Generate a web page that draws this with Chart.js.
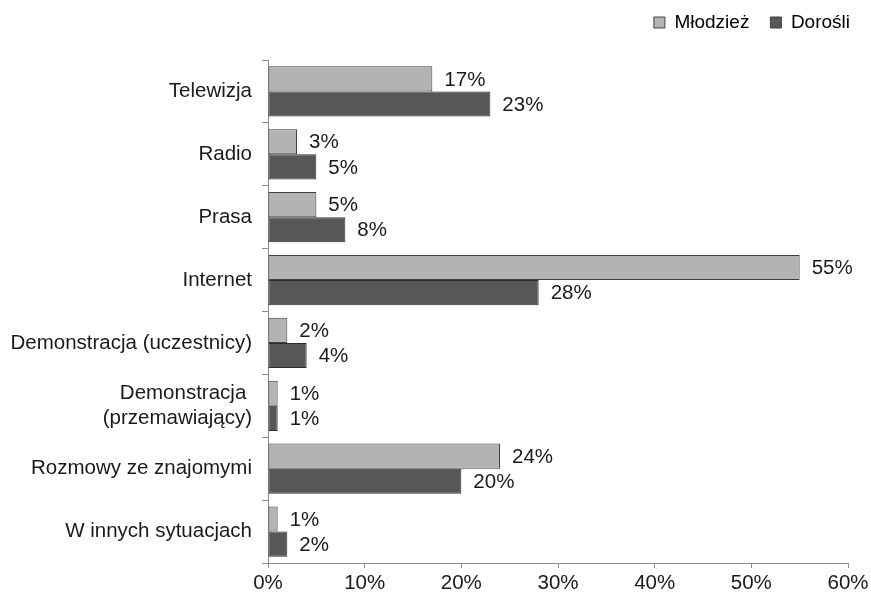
<!DOCTYPE html>
<html>
<head>
<meta charset="utf-8">
<script src="https://cdn.jsdelivr.net/npm/chart.js@4.4.1/dist/chart.umd.min.js"></script>
<style>
  html, body { margin: 0; padding: 0; background: #fff; }
  #wrap { width: 871px; height: 596px; position: relative; }
</style>
</head>
<body>
<div id="wrap"><canvas id="c"></canvas></div>
<script>
// Źródła informacji – odsetek wskazań
const categories = [
  'Telewizja',
  'Radio',
  'Prasa',
  'Internet',
  'Demonstracja (uczestnicy)',
  ['Demonstracja ', '(przemawiający)'],
  'Rozmowy ze znajomymi',
  'W innych sytuacjach'
];
const mlodziez = [17, 3, 5, 55, 2, 1, 24, 1];
const dorosli  = [23, 5, 8, 28, 4, 1, 20, 2];
const xTicks = [0, 10, 20, 30, 40, 50, 60];

const FONT = "'Liberation Sans', Arial, sans-serif";
const TEXT = '#1a1a1a';
const AXIS = '#8c8c8c';

// Value labels to the right of each bar
const valueLabels = {
  id: 'valueLabels',
  afterDatasetsDraw(chart) {
    const ctx = chart.ctx;
    ctx.save();
    ctx.font = '20.5px ' + FONT;
    ctx.fillStyle = TEXT;
    ctx.textAlign = 'left';
    ctx.textBaseline = 'middle';
    chart.data.datasets.forEach((ds, di) => {
      const meta = chart.getDatasetMeta(di);
      meta.data.forEach((bar, i) => {
        ctx.fillText(ds.data[i] + '%', bar.x + 12, bar.y + 1);
      });
    });
    ctx.restore();
  }
};

// Leave extra room under the legend before the plot area
const legendSpace = {
  id: 'legendSpace',
  beforeUpdate(chart) {
    const lg = chart.legend;
    if (lg && !lg._spaced) {
      const fit = lg.fit;
      lg.fit = function () {
        fit.call(this);
        this.height = 68;
        this.minSize = { width: this.width, height: this.height };
      };
      lg._spaced = true;
    }
  }
};

new Chart(document.getElementById('c'), {
  type: 'bar',
  data: {
    labels: categories,
    datasets: [
      {
        label: 'Młodzież',
        data: mlodziez,
        backgroundColor: '#b3b3b3',
        borderColor: '#3f3f3f',
        borderWidth: 1,
        borderSkipped: false,
        categoryPercentage: 0.8,
        barPercentage: 1.0
      },
      {
        label: 'Dorośli',
        data: dorosli,
        backgroundColor: '#575757',
        borderColor: '#2e2e2e',
        borderWidth: 1,
        borderSkipped: false,
        categoryPercentage: 0.8,
        barPercentage: 1.0
      }
    ]
  },
  options: {
    indexAxis: 'y',
    responsive: true,
    maintainAspectRatio: false,
    animation: false,
    layout: { padding: { top: -8, right: 0, bottom: 0, left: 0 } },
    plugins: {
      legend: {
        position: 'top',
        align: 'end',
        labels: {
          font: { family: FONT, size: 19 },
          color: TEXT,
          boxWidth: 11,
          boxHeight: 11,
          padding: 21,
          generateLabels(chart) {
            return chart.data.datasets.map((ds, i) => ({
              text: ds.label,
              fillStyle: ds.backgroundColor,
              strokeStyle: '#444',
              lineWidth: 1,
              hidden: false,
              datasetIndex: i
            }));
          }
        }
      },
      tooltip: { enabled: false }
    },
    scales: {
      x: {
        min: 0,
        max: 60,
        afterBuildTicks(scale) {
          scale.ticks = xTicks.map(v => ({ value: v }));
        },
        afterFit(scale) {
          scale.height = 33;
          scale.paddingRight = 23;
        },
        grid: {
          drawOnChartArea: false,
          drawTicks: true,
          tickLength: 5,
          color: AXIS
        },
        border: { display: true, color: AXIS, width: 1 },
        ticks: {
          font: { family: FONT, size: 20.5 },
          color: TEXT,
          padding: 3,
          callback: v => v + '%'
        }
      },
      y: {
        afterFit(scale) { scale.width = 268; },
        grid: {
          offset: true,
          drawOnChartArea: false,
          drawTicks: true,
          tickLength: 6,
          color: AXIS
        },
        border: { display: true, color: AXIS, width: 1 },
        ticks: {
          font: { family: FONT, size: 20.5, lineHeight: 1.2 },
          color: TEXT,
          padding: 10,
          autoSkip: false
        }
      }
    }
  },
  plugins: [valueLabels, legendSpace]
});
</script>
</body>
</html>
